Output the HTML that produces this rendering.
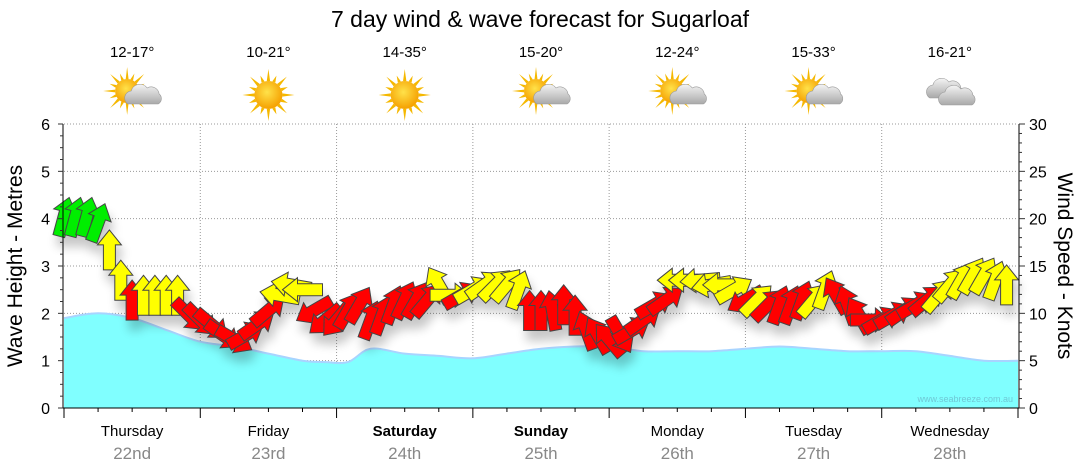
<!DOCTYPE html>
<html><head><meta charset="utf-8">
<style>
html,body{margin:0;padding:0;background:#fff;}
svg{display:block;font-family:"Liberation Sans","DejaVu Sans",sans-serif;}
</style></head>
<body>
<svg id="chart" width="1080" height="475" viewBox="0 0 1080 475">
<defs>
<filter id="shadow" x="-20%" y="-20%" width="140%" height="160%">
<feGaussianBlur in="SourceAlpha" stdDeviation="5"/>
<feOffset dx="3" dy="10" result="b"/>
<feComponentTransfer><feFuncA type="linear" slope="0.22"/></feComponentTransfer>
<feMerge><feMergeNode/><feMergeNode in="SourceGraphic"/></feMerge>
</filter>
<radialGradient id="sunG" cx="45%" cy="40%" r="60%"><stop offset="0" stop-color="#ffe24a"/><stop offset="1" stop-color="#f5a000"/></radialGradient>
<linearGradient id="cloudG" x1="0" y1="0" x2="0" y2="1"><stop offset="0" stop-color="#f4f4f4"/><stop offset="1" stop-color="#a9a9a9"/></linearGradient>
</defs>
<text x="540" y="27" font-size="23" text-anchor="middle" fill="#000">7 day wind &amp; wave forecast for Sugarloaf</text>
<g id="grid"></g>
<g id="wave"></g>
<g id="arrows" filter="url(#shadow)"></g>
<g id="axes"></g>
<g id="days"></g>
<g id="weather"></g>
<text x="1013" y="402" font-size="9" text-anchor="end" fill="#6fc9d6">www.seabreeze.com.au</text>
<text transform="translate(22,266) rotate(-90)" font-size="21" text-anchor="middle">Wave Height - Metres</text>
<text transform="translate(1058,266) rotate(90)" font-size="21" text-anchor="middle">Wind Speed - Knots</text>
</svg>
<script>
const dayNames = ["Thursday","Friday","Saturday","Sunday","Monday","Tuesday","Wednesday"];
const dayDates = ["22nd","23rd","24th","25th","26th","27th","28th"];
const boldDays = [false,false,true,true,false,false,false];
const temps = ["12-17°","10-21°","14-35°","15-20°","12-24°","15-33°","16-21°"];
const icons = ["suncloud","sun","sun","suncloud","suncloud","suncloud","cloud"];
const leftTicks = [0,1,2,3,4,5,6];
const rightTicks = [0,5,10,15,20,25,30];
// wave height (m) by hour
const waveHours = [0,6,12,18,24,30,36,42,46,50,54,60,66,72,78,84,90,96,102,108,114,120,126,132,138,144,150,156,162,168];
const waveVals  = [1.9,2.0,1.9,1.65,1.4,1.3,1.15,1.0,0.97,0.97,1.25,1.15,1.1,1.05,1.15,1.25,1.3,1.3,1.2,1.2,1.2,1.25,1.3,1.25,1.2,1.2,1.2,1.1,1.0,1.0];
// wind arrows
const windHours = [0,2,4,6,8,10,12,14,16,18,20,22,24,26,28,30,32,34,36,38,40,42,44,46,48,50,52,54,56,58,60,62,64,66,68,70,72,74,76,78,80,82,84,86,88,90,92,94,96,98,100,102,104,106,108,110,112,114,116,118,120,122,124,126,128,130,132,134,136,138,140,142,144,146,148,150,152,154,156,158,160,162,164,166];
const windSpeed = [20.2,20.2,20.2,19.6,16.7,13.5,11.4,11.9,11.9,11.9,11.9,9.8,9.3,8.8,7.7,7.2,7.7,8.8,10.3,11.9,13.0,12.5,10.3,9.3,9.3,10.3,10.9,9.3,9.8,10.9,11.4,11.4,11.4,13.0,11.9,11.9,12.5,13.0,13.0,13.0,12.5,10.3,10.3,10.3,10.9,9.8,8.2,7.7,7.2,7.7,8.2,9.3,10.9,11.4,13.5,13.5,13.5,13.0,13.0,12.5,11.4,11.4,10.9,10.9,10.9,11.4,11.4,12.5,11.9,10.9,9.8,9.3,9.3,9.8,10.3,10.9,11.4,11.9,13.0,13.5,14.0,14.0,13.5,13.0];
const windDir = [15,15,15,20,0,0,0,0,0,0,0,135,135,130,125,120,60,55,50,280,280,270,240,230,220,30,30,20,20,20,25,30,40,330,90,60,60,55,45,40,20,0,0,350,0,0,340,330,320,150,60,55,60,55,270,270,265,260,270,60,240,45,45,20,20,20,40,20,330,340,330,90,60,60,55,60,50,40,40,30,30,30,20,0];
const windCat = ["g","g","g","g","y","y","r","y","y","y","y","r","r","r","r","r","r","r","r","y","y","y","r","r","r","r","r","r","r","r","r","r","r","y","y","r","y","y","y","y","y","r","r","r","r","r","r","r","r","r","r","r","r","r","y","y","y","y","y","y","r","y","r","r","r","r","y","y","r","r","r","r","r","r","r","r","r","y","y","y","y","y","y","y"];

const NS="http://www.w3.org/2000/svg";
const X0=64, X1=1018, Y0=408, Y1=124;
const xH = h => X0 + h/168*(X1-X0);
const yM = m => Y0 - m/6*(Y0-Y1);
const yK = k => Y0 - k/30*(Y0-Y1);
function mk(tag, attrs, parent){const e=document.createElementNS(NS,tag);for(const k in attrs)e.setAttribute(k,attrs[k]);parent.appendChild(e);return e;}

const grid=document.getElementById('grid');
leftTicks.forEach(t=>{ if(t>0){
  const l=mk('line',{x1:X0,x2:X1,y1:yM(t),y2:yM(t),stroke:'#999','stroke-dasharray':'1,2'},grid);
  
  
}});
for(let d=1; d<7; d++){
  const l=mk('line',{x1:xH(d*24),x2:xH(d*24),y1:Y1,y2:Y0,stroke:'#999','stroke-dasharray':'1,2'},grid);
  
  
}

// wave area (smooth catmull-rom)
const wave=document.getElementById('wave');
const pts=waveHours.map((h,i)=>[xH(h),yM(waveVals[i])]);
let curve='M'+pts[0][0].toFixed(1)+','+pts[0][1].toFixed(1);
for(let i=0;i<pts.length-1;i++){
  const p0=pts[Math.max(0,i-1)],p1=pts[i],p2=pts[i+1],p3=pts[Math.min(pts.length-1,i+2)];
  const c1=[p1[0]+(p2[0]-p0[0])/6,p1[1]+(p2[1]-p0[1])/6];
  const c2=[p2[0]-(p3[0]-p1[0])/6,p2[1]-(p3[1]-p1[1])/6];
  curve+=` C${c1[0].toFixed(1)},${c1[1].toFixed(1)} ${c2[0].toFixed(1)},${c2[1].toFixed(1)} ${p2[0].toFixed(1)},${p2[1].toFixed(1)}`;
}
const area='M'+pts[0][0]+','+Y0+' L'+curve.slice(1)+' L'+pts[pts.length-1][0]+','+Y0+' Z';
const wa=mk('path',{d:area,fill:'#80ffff'},wave);


const wl=mk('path',{d:curve,fill:'none',stroke:'#a8d4ff','stroke-width':2},wave);



// arrows
const arrows=document.getElementById('arrows');
const colors={g:'#00ee00',y:'#ffff00',r:'#ff0000'};
const shape='M0,-20 L12,-5 L6,-5 L6,20 L-6,20 L-6,-5 L-12,-5 Z';
windHours.forEach((h,i)=>{
  const a=mk('path',{d:shape,fill:colors[windCat[i]],stroke:'#444','stroke-width':1,'stroke-linejoin':'miter',
    transform:'translate('+xH(h).toFixed(1)+','+yK(windSpeed[i]).toFixed(1)+') rotate('+windDir[i]+')'},arrows);
  
  
});

// axes
const axes=document.getElementById('axes');
mk('line',{x1:X0-1,x2:X0-1,y1:Y1,y2:Y0,stroke:'#000'},axes);
mk('line',{x1:X1+1,x2:X1+1,y1:Y1,y2:Y0,stroke:'#000'},axes);
mk('line',{x1:X0-1,x2:X1+1,y1:Y0,y2:Y0,stroke:'#000'},axes);
for(let m=0;m<=24;m++){
  const y=Y0-m*(Y0-Y1)/24, big=m%4==0;
  mk('line',{x1:X0-1,x2:X0-(big?6:4),y1:y,y2:y,stroke:'#333'},axes);
}
for(let m=0;m<=30;m++){
  const y=yK(m), big=m%5==0;
  mk('line',{x1:X1+1,x2:X1+(big?7:4),y1:y,y2:y,stroke:'#333'},axes);
}
leftTicks.forEach(t=>{
  const e=mk('text',{x:50,y:yM(t)+6,'font-size':16,'text-anchor':'end'},axes);e.textContent=t;
  
  
});
rightTicks.forEach(t=>{
  const e=mk('text',{x:1029,y:yK(t)+6,'font-size':16,'text-anchor':'start'},axes);e.textContent=t;
  
  
});
for(let h=0;h<=168;h+=6){
  const big=h%24==0;
  mk('line',{x1:xH(h),x2:xH(h),y1:Y0,y2:Y0+(big?10:4),stroke:'#000'},axes);
}

// day labels and weather
const days=document.getElementById('days'), weather=document.getElementById('weather');
function sun(g,cx,cy,r){
  for(let k=0;k<16;k++){const ang=k*22.5*Math.PI/180, L=(k%2?r+7:r+12);
    mk('path',{d:`M${cx+Math.cos(ang+0.12)*r},${cy+Math.sin(ang+0.12)*r} L${cx+Math.cos(ang)*L},${cy+Math.sin(ang)*L} L${cx+Math.cos(ang-0.12)*r},${cy+Math.sin(ang-0.12)*r}Z`,fill:'#f5b800'},g);}
  mk('circle',{cx:cx,cy:cy,r:r,fill:'url(#sunG)'},g);
}
function cloud(g,cx,cy,s){
  mk('path',{d:`M${cx-14*s},${cy+8*s} a7,7 0 0 1 3,-13 a9,9 0 0 1 16,-3 a8,8 0 0 1 12,6 a6,6 0 0 1 -1,10 Z`,fill:'url(#cloudG)',stroke:'#999','stroke-width':0.6},g);
}
dayNames.forEach((n,i)=>{
  const cx=xH(i*24+12);
  const t=mk('text',{x:cx,y:436,'font-size':15,'text-anchor':'middle','font-weight':boldDays[i]?'bold':'normal'},days);t.textContent=n;
  
  
  const dt=mk('text',{x:cx,y:459,'font-size':17,'text-anchor':'middle',fill:'#888'},days);dt.textContent=dayDates[i];
  
  
  const tp=mk('text',{x:cx,y:57,'font-size':15,'text-anchor':'middle'},weather);tp.textContent=temps[i];
  
  
  const g=mk('g',{},weather);
  
  
  if(icons[i]==='sun'){sun(g,cx,95,14);}
  else if(icons[i]==='suncloud'){sun(g,cx-5,91,12); cloud(g,cx+10,96,1);}
  else {cloud(g,cx-6,90,1); cloud(g,cx+6,97,1);}
});
</script>
</body></html>
